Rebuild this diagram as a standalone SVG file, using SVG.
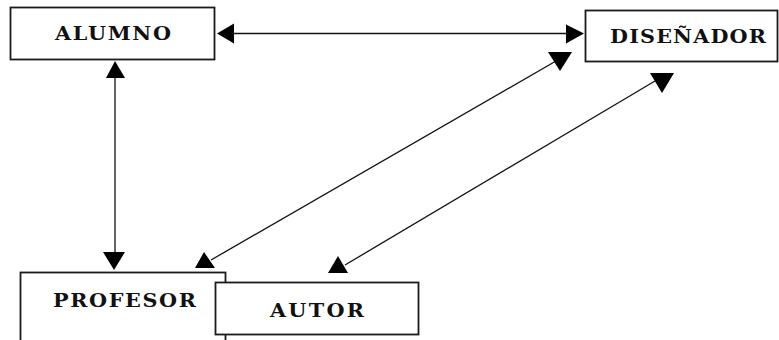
<svg xmlns="http://www.w3.org/2000/svg" width="779" height="340" viewBox="0 0 779 340">
<style>
  .box { fill: #ffffff; stroke: #1a1a1a; stroke-width: 1.8; }
  .lbl { font-family: "DejaVu Serif", "Liberation Serif", serif; font-weight: bold; font-size: 18.5px; fill: #111111; }
  .ln { stroke: #111111; stroke-width: 1.3; fill: none; }
  .ah { fill: #000000; stroke: none; }
</style>
<rect width="779" height="340" fill="#ffffff"/>
<g id="connectors">
  <line class="ln" x1="232" y1="33.5" x2="567" y2="33.5"/>
  <polygon class="ah" points="217,33.5 234,23.5 234,43.5"/>
  <polygon class="ah" points="584,33.5 566,24.5 566,43.5"/>
  <line class="ln" x1="115" y1="76" x2="115" y2="254"/>
  <polygon class="ah" points="115,61 106,78 125,78"/>
  <polygon class="ah" points="114,270 103,252 125,252"/>
  <line class="ln" x1="211" y1="260" x2="556" y2="61"/>
  <polygon class="ah" points="204,252 195,268 215,268"/>
  <polygon class="ah" points="560,71 548,52 572,52"/>
  <line class="ln" x1="345" y1="265" x2="655" y2="81"/>
  <polygon class="ah" points="338,256 328,273 348,273"/>
  <polygon class="ah" points="662,93 650,73 674,73"/>
</g>
<g id="alumno">
  <rect class="box" x="10.5" y="7.5" width="204" height="52"/>
  <text class="lbl" transform="translate(55,40) scale(1.12,1)" textLength="103.6" lengthAdjust="spacing">ALUMNO</text>
</g>
<g id="disenador">
  <rect class="box" x="585.5" y="10.5" width="192" height="51"/>
  <text class="lbl" transform="translate(610,43) scale(1.12,1)" textLength="139.3" lengthAdjust="spacing">DISEÑADOR</text>
</g>
<g id="profesor">
  <rect class="box" x="20.5" y="272.5" width="205" height="80"/>
  <text class="lbl" transform="translate(53,307) scale(1.12,1)" textLength="127.7" lengthAdjust="spacing">PROFESOR</text>
</g>
<g id="autor">
  <rect class="box" x="215.5" y="282.5" width="203" height="52"/>
  <text class="lbl" transform="translate(270,317) scale(1.12,1)" textLength="83.9" lengthAdjust="spacing">AUTOR</text>
</g>
</svg>
